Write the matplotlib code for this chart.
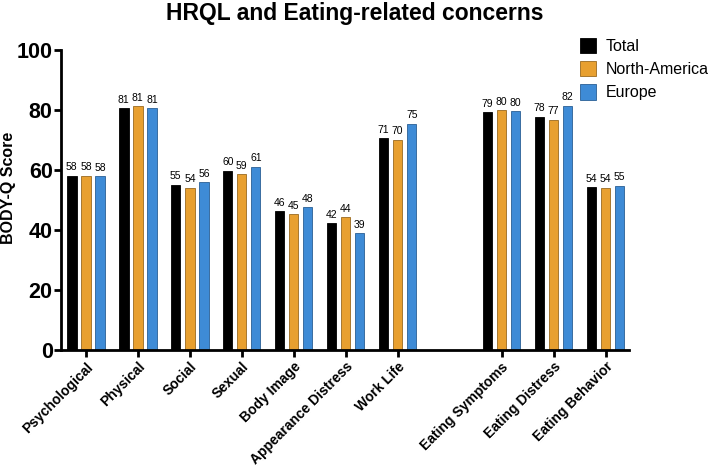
import numpy as np
import matplotlib
matplotlib.use("Agg")
import matplotlib.pyplot as plt

plt.rcParams['font.family'] = ['Liberation Sans', 'DejaVu Sans']

# categories (empty slot = gap between HRQL and eating scales)
categories = ["Psychological", "Physical", "Social", "Sexual", "Body Image",
              "Appearance Distress", "Work Life", "",
              "Eating Symptoms", "Eating Distress", "Eating Behavior"]

# bar heights
total = [58.0, 80.6, 55.0, 59.8, 46.3, 42.2, 70.6, np.nan, 79.3, 77.8, 54.2]
north_america = [58.0, 81.3, 54.1, 58.6, 45.3, 44.2, 70.1, np.nan, 79.9, 76.7, 54.1]
europe = [57.9, 80.6, 55.9, 61.1, 47.6, 38.9, 75.4, np.nan, 79.6, 81.4, 54.7]

# printed labels
total_lbl = [58, 81, 55, 60, 46, 42, 71, None, 79, 78, 54]
na_lbl = [58, 81, 54, 59, 45, 44, 70, None, 80, 77, 54]
eu_lbl = [58, 81, 56, 61, 48, 39, 75, None, 80, 82, 55]

series = [
    ("Total", total, total_lbl, "#000000", "#000000"),
    ("North-America", north_america, na_lbl, "#E8A030", "#9a6a20"),
    ("Europe", europe, eu_lbl, "#3E8BD6", "#2a5f95"),
]

fig = plt.figure(figsize=(7.09, 4.68), dpi=100)
ax = fig.add_axes([0.086, 0.252, 0.801, 0.641])

x = np.arange(len(categories))
width = 0.18
offsets = [-0.27, 0.0, 0.27]

for (name, vals, lbls, color, edge), off in zip(series, offsets):
    ax.bar(x + off, vals, width, color=color, edgecolor=edge,
           linewidth=0.6, label=name)
    for xi, v, l in zip(x + off, vals, lbls):
        if l is None:
            continue
        ax.text(xi, v + 1.2, str(l), ha='center', va='bottom', fontsize=7.5)

ax.set_ylim(0, 100)
ax.set_xlim(-0.48, len(categories) - 0.55)
ax.set_yticks([0, 20, 40, 60, 80, 100])
ax.set_xticks(x)
ax.set_xticklabels(categories, rotation=45, ha='right', rotation_mode='anchor',
                   fontsize=10, fontweight='bold')
for lab in ax.get_yticklabels():
    lab.set_fontsize(15.5)
    lab.set_fontweight('bold')

ax.spines['top'].set_visible(False)
ax.spines['right'].set_visible(False)
ax.spines['left'].set_linewidth(2)
ax.spines['bottom'].set_linewidth(2)
ax.tick_params(axis='both', width=2, length=5, direction='out')
ax.tick_params(axis='y', pad=1)
ax.tick_params(axis='x', pad=2)
# gap slot has no visible tick
ax.xaxis.get_major_ticks()[7].tick1line.set_visible(False)

ax.set_ylabel("BODY-Q Score", fontsize=11.5, fontweight='bold')
ax.yaxis.set_label_coords(-0.079, 0.54)
fig.suptitle("HRQL and Eating-related concerns", fontsize=16.5, fontweight='bold',
             x=0.5, y=0.995)

fig.legend(loc='upper right', bbox_to_anchor=(1.02, 0.95), frameon=False,
           fontsize=11.5, handlelength=1.0, handleheight=1.1, handletextpad=0.6,
           labelspacing=0.45)

fig.savefig("out.png", dpi=100)
